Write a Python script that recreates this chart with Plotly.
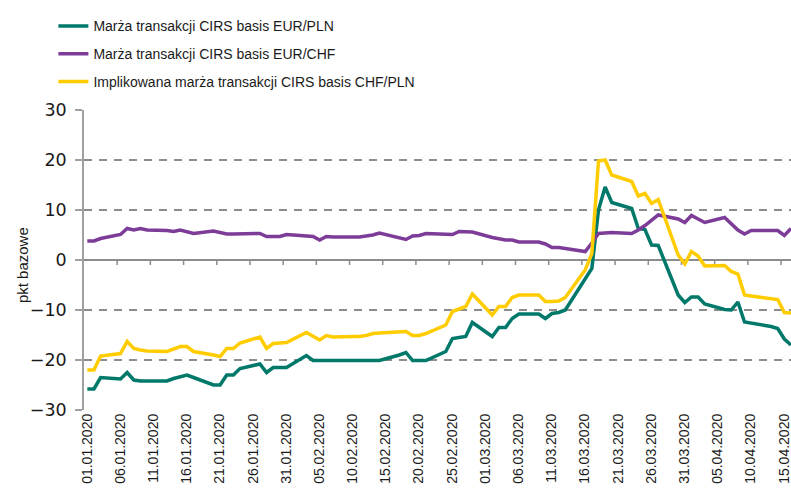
import pandas as pd
import plotly.graph_objects as go

# Business days 01.01.2020 - 16.04.2020
dates = pd.bdate_range("2020-01-01", "2020-04-16")

eur_pln = [
    -25.8, -25.8, -23.5, -23.8, -22.5, -24.0, -24.2, -24.2, -24.2, -23.7, -23.3, -23.0, -23.5, -25.0, -25.0, -23.0, -23.0, -21.7, -20.8, -22.5, -21.5, -21.5, -21.5,
    -19.1, -20.1, -20.1, -20.1, -20.1, -20.1, -20.1, -20.1, -20.1, -20.1, -19.0, -18.5, -20.1, -20.1, -20.1, -18.3, -15.7, -15.5, -15.3, -12.5,
    -15.3, -13.5, -13.5, -11.7, -10.8, -10.8, -11.7, -10.7, -10.5, -10.0, -3.6, -1.7, 10.0, 14.6, 11.5, 10.3, 6.3, 6.1, 3.0, 2.9, -7.0, -8.5,
    -7.4, -7.4, -8.8, -9.9, -10.0, -8.4, -12.4, -12.6, -13.3, -13.7, -15.8, -17.0,
]
eur_chf = [
    3.8, 3.8, 4.3, 5.1, 6.3, 6.0, 6.3, 6.0, 5.9, 5.7, 6.0, 5.6, 5.3, 5.8, 5.5, 5.2, 5.2, 5.2, 5.3, 4.7, 4.7, 4.7, 5.1,
    4.8, 4.7, 4.0, 4.7, 4.6, 4.6, 4.6, 4.8, 5.0, 5.4, 4.5, 4.1, 4.8, 4.9, 5.3, 5.2, 5.1, 5.7, 5.6, 5.6,
    4.5, 4.2, 4.0, 4.0, 3.6, 3.6, 3.2, 2.5, 2.5, 2.3, 1.7, 3.4, 5.3, 5.4, 5.5, 5.3, 6.0, 6.9, 7.9, 9.0, 8.2, 7.5,
    8.9, 8.2, 7.5, 8.5, 7.2, 6.0, 5.2, 5.9, 5.9, 5.9, 4.9, 6.3,
]
chf_pln = [
    -22.0, -22.0, -19.2, -18.7, -16.3, -17.7, -18.0, -18.2, -18.3, -17.8, -17.3, -17.3, -18.3, -19.0, -19.3, -17.7, -17.7, -16.6, -15.4, -17.7, -16.7, -16.6, -16.5,
    -14.5, -15.3, -16.0, -15.1, -15.4, -15.3, -15.3, -15.1, -14.7, -14.6, -14.4, -14.3, -15.1, -15.1, -14.7, -13.0, -10.3, -9.8, -9.3, -6.8,
    -11.0, -9.3, -9.3, -7.5, -7.0, -7.0, -8.3, -8.3, -8.2, -7.5, -2.0, 1.3, 19.8, 20.0, 17.0, 15.7, 12.8, 13.3, 11.3, 12.1, 1.0, -0.8,
    1.7, 0.8, -1.2, -1.1, -2.3, -2.8, -7.0, -7.2, -7.7, -7.9, -10.5, -10.6,
]

series_names = [
    "Marża transakcji CIRS basis EUR/PLN",
    "Marża transakcji CIRS basis EUR/CHF",
    "Implikowana marża transakcji CIRS basis CHF/PLN",
]
series_values = [eur_pln, eur_chf, chf_pln]
series_colors = ["#00796B", "#7D3C98", "#FFCC00"]

tick_dates = pd.date_range("2020-01-01", "2020-04-15", freq="5D")
y_ticks = [-30, -20, -10, 0, 10, 20, 30]
y_title = "pkt bazowe"

x_mid = dates + pd.Timedelta(hours=12)

fig = go.Figure()
for i, (name, vals, col) in enumerate(zip(series_names, series_values, series_colors)):
    fig.add_trace(go.Scatter(
        x=x_mid, y=vals, name=name, mode="lines",
        line=dict(color=col, width=3.5),
        legendgroup=f"g{i}",
    ))

# small tick marks on the zero line
for d in tick_dates[1:]:
    fig.add_shape(type="line", xref="x", yref="y", x0=d, x1=d, y0=0, y1=-1,
                  line=dict(color="#8c8c8c", width=1.5), layer="below")

fig.add_annotation(
    text=y_title, textangle=-90, xref="paper", yref="paper",
    x=-0.0877, y=0.483, showarrow=False, xanchor="center", yanchor="middle",
    font=dict(size=15, family="Liberation Sans, Arial, sans-serif", color="#1a1a1a"),
)

fig.update_layout(
    width=791, height=495,
    margin=dict(l=84, r=0, t=110, b=85, autoexpand=False),
    paper_bgcolor="white", plot_bgcolor="white",
    font=dict(family="Liberation Sans, Arial, sans-serif", color="#1a1a1a", size=14),
    showlegend=True,
    legend=dict(
        xref="container", yref="container", x=0.0675, y=0.979,
        xanchor="left", yanchor="top",
        font=dict(size=14), tracegroupgap=6.5, bgcolor="rgba(0,0,0,0)",
    ),
    xaxis=dict(
        type="date",
        range=[pd.Timestamp("2020-01-01"), pd.Timestamp("2020-04-16 12:00")],
        tickvals=list(tick_dates),
        ticktext=[d.strftime("%d.%m.%Y") for d in tick_dates],
        tickangle=-90, showgrid=False, showline=False, zeroline=False,
        ticks="", tickfont=dict(size=14), ticklabelshift=3,
        ticklabeloverflow="allow",
    ),
    yaxis=dict(
        range=[-30, 30], tickvals=y_ticks,
        showgrid=True, gridcolor="#8c8c8c", gridwidth=1.5, griddash="8px,7px",
        zeroline=True, zerolinecolor="#8c8c8c", zerolinewidth=1.5,
        showline=True, linecolor="#a0a0a0", linewidth=1.5,
        ticks="outside", ticklen=7, tickcolor="#a0a0a0", tickwidth=1.5,
        tickfont=dict(size=17.5, family="DejaVu Sans, sans-serif"),
        ticklabelstandoff=5,
    ),
)

fig.write_html("out.html", config={"displayModeBar": False},
               post_script="document.body.style.margin='0px';")
